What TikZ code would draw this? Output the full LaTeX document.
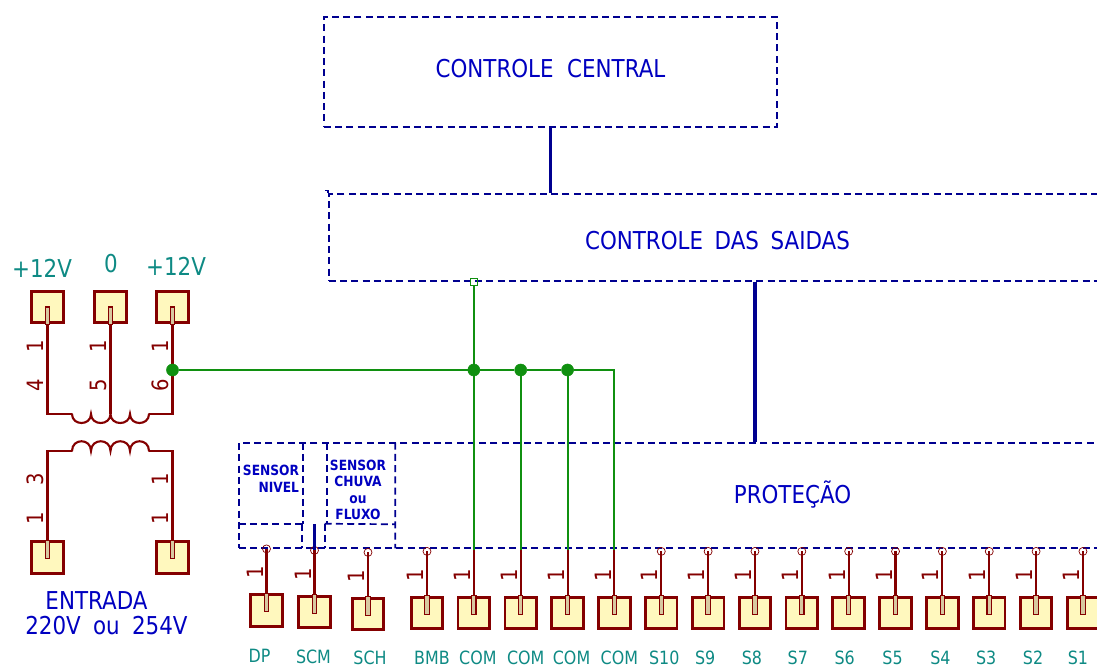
\documentclass[tikz,border=0pt]{standalone}
\usepackage{xcolor}
\usepackage{fontspec}
\usepackage{tikz}
\setmainfont{DejaVu Sans}[FakeStretch=0.87]
\usetikzlibrary{positioning}

\definecolor{pinred}{HTML}{840000}
\definecolor{padyellow}{HTML}{FFF8BE}
\definecolor{slottan}{HTML}{D8C8A0}
\definecolor{netgreen}{HTML}{109010}
\definecolor{boxblue}{HTML}{000090}
\definecolor{textblue}{HTML}{0000C0}
\definecolor{netteal}{HTML}{0E8A84}

\tikzset{
	pad/.style={draw=pinred, fill=padyellow, rectangle, line width=2pt, minimum size=0.79cm, inner sep=0pt},
	slotbox/.style={draw=pinred, fill=slottan, line width=0.8pt},
	wire/.style={draw=pinred, line width=1.5pt},
	net/.style={draw=netgreen, line width=1.5pt},
	bus/.style={draw=boxblue, line width=2.4pt},
	dashline/.style={draw=boxblue, line width=1.2pt, dash pattern=on 5pt off 3pt},
	dashbox/.style={dashline, rectangle, inner sep=0pt},
	areabox/.style={rectangle, inner sep=0pt},
	junction/.style={circle, fill=netgreen, draw=netgreen, minimum size=0.3cm, inner sep=0pt},
	testpoint/.style={circle, draw=pinred, line width=0.5pt, minimum size=0.2cm, inner sep=0pt},
	pinnum/.style={text=pinred, font=\fontsize{16}{16}\selectfont, rotate=90, inner sep=0pt},
	bigtext/.style={text=textblue, font=\fontsize{17.5}{21}\selectfont, align=center, inner sep=0pt},
	netlabel/.style={text=netteal, font=\fontsize{17.5}{21}\selectfont, inner sep=0pt},
	pinlabel/.style={text=netteal, font=\fontsize{13}{15}\selectfont, inner sep=0pt},
	smalltext/.style={text=textblue, font=\bfseries\fontsize{10}{11.7}\selectfont, inner sep=0pt}
}

\begin{document}
\begin{tikzpicture}[x=0.025cm, y=-0.025cm, node distance=1.171cm]
	\useasboundingbox (0,0) rectangle (1097,668);
	\clip (0,0) rectangle (1097,668);

	% Blocks
	\node (central) [dashbox, minimum width=11.325cm, minimum height=2.75cm] at (550.5,72) {};
	\node (saidas) [dashbox, minimum width=19.35cm, minimum height=2.175cm] at (716,237.5) {};
	\node (protecao) [dashbox, minimum width=21.6cm, minimum height=2.625cm] at (671,495.5) {};
	\node (nivel) [areabox, minimum width=1.6cm, minimum height=2.025cm] at (271,483.5) {};
	\node (chuva) [areabox, minimum width=1.7cm, minimum height=2.025cm] at (361,483.5) {};
	\node (nivel_low) [areabox, minimum width=1.575cm, minimum height=0.6cm] at (270.5,536) {};
	\node (chuva_low) [areabox, minimum width=1.75cm, minimum height=0.6cm] at (360,536) {};
	\draw[dashline] (nivel.north east) -- (nivel.south east);
	\draw[dashline] (nivel.south west) -- (nivel.south east);
	\draw[dashline] (nivel_low.north east) -- (nivel_low.south east);
	\draw[dashline] (chuva.north west) -- (chuva.south west);
	\draw[dashline] (chuva_low.north west) -- (chuva_low.south west);
	\draw[dashline] (chuva_low.north west) -- (chuva.south east);
	\draw[dashline] (chuva.north east) -- (chuva_low.south east);
	\draw[boxblue, line width=1pt] ([xshift=-0.08cm, yshift=0.07cm]saidas.north west) -- ([yshift=0.07cm]saidas.north west) -- (saidas.north west);

	% Block texts
	\node (central_txt) [bigtext] at (550.5,69) {CONTROLE\hspace{0.55em}CENTRAL};
	\node (saidas_txt) [bigtext] at (717.5,241) {CONTROLE\hspace{0.47em}DAS\hspace{0.47em}SAIDAS};
	\node (protecao_txt) [bigtext] at (792.5,495) {PROTEÇÃO};
	\node (nivel_txt) [smalltext, align=right] at (271,479) {SENSOR\\NIVEL};
	\node (chuva_txt) [smalltext, align=center] at (358,490) {SENSOR\\CHUVA\\ou\\FLUXO};

	% Transformer pads
	\node (pad_p4) [pad] at (47.5,307) {};
	\node (pad_p5) [pad] at (110.5,307) {};
	\node (pad_p6) [pad] at (172.5,307) {};
	\node (pad_e1) [pad] at (47.5,557.5) {};
	\node (pad_e2) [pad] at (172.5,557.5) {};

	% Terminal pads
	\node (pad_dp) [pad] at (266.5,610.5) {};
	\node (pad_scm) [pad] at (314.5,612) {};
	\node (pad_sch) [pad] at (368,614) {};
	\node (pad_bmb) [pad] at (427,613) {};
	\node (pad_com1) [pad, right of=pad_bmb] {};
	\node (pad_com2) [pad, right of=pad_com1] {};
	\node (pad_com3) [pad, right of=pad_com2] {};
	\node (pad_com4) [pad, right of=pad_com3] {};
	\node (pad_s10) [pad, right of=pad_com4] {};
	\node (pad_s9) [pad, right of=pad_s10] {};
	\node (pad_s8) [pad, right of=pad_s9] {};
	\node (pad_s7) [pad, right of=pad_s8] {};
	\node (pad_s6) [pad, right of=pad_s7] {};
	\node (pad_s5) [pad, right of=pad_s6] {};
	\node (pad_s4) [pad, right of=pad_s5] {};
	\node (pad_s3) [pad, right of=pad_s4] {};
	\node (pad_s2) [pad, right of=pad_s3] {};
	\node (pad_s1) [pad, right of=pad_s2] {};

	% Terminal wires
	\foreach \p in {dp,scm,sch,bmb,s10,s9,s8,s7,s6,s5,s4,s3,s2,s1} {
		\node (tp_\p) [testpoint, above of=pad_\p, node distance=1.54cm] {};
		\draw[wire] (pad_\p.center) -- (tp_\p.center);
	}
	\foreach \p in {com1,com2,com3,com4} {
		\coordinate[above of=pad_\p, node distance=1.57cm] (tp_\p);
		\draw[wire] (pad_\p.center) -- (tp_\p);
	}
	\foreach \p in {dp,scm,sch,bmb,com1,com2,com3,com4,s10,s9,s8,s7,s6,s5,s4,s3,s2,s1} {
		\draw[slotbox] ([xshift=-0.055cm]pad_\p.north) rectangle ([xshift=0.055cm, yshift=-0.03cm]pad_\p.center);
		\node (num_\p) [pinnum] at ([xshift=-0.29cm, yshift=0.95cm]pad_\p.center) {1};
	}

	% Terminal labels
	\foreach \p/\t/\dx in {dp/DP/-7, scm/SCM/-1, bmb/BMB/5, com1/COM/4, com2/COM/5, com3/COM/4, com4/COM/5,
			s10/S10/3, s9/S9/-3, s8/S8/-3, s7/S7/-4, s6/S6/-4, s5/S5/-3, s4/S4/-2, s3/S3/-3, s2/S2/-3, s1/S1/-5} {
		\node (lbl_\p) [pinlabel, below of=pad_\p, node distance=1.13cm, xshift=\dx*0.025cm] {\t};
	}
	\node (lbl_sch) [pinlabel, below of=pad_sch, node distance=1.1cm, xshift=0.05cm] {SCH};

	% Transformer
	\coordinate (sec_left) at (72,414);
	\coordinate (sec_mid) at (110.5,414);
	\coordinate (sec_right) at (149,414);
	\coordinate (pri_left) at (72,451);
	\coordinate (pri_right) at (149,451);
	\draw[wire, line cap=round] (sec_left) .. controls (72,426) and (91,426) .. (91,414)
		.. controls (91,426) and (110.5,426) .. (sec_mid)
		.. controls (110.5,426) and (130,426) .. (130,414)
		.. controls (130,426) and (149,426) .. (sec_right);
	\draw[wire, line cap=round] (pri_left) .. controls (72,438) and (91,438) .. (91,451)
		.. controls (91,438) and (110.5,438) .. (110.5,451)
		.. controls (110.5,438) and (130,438) .. (130,451)
		.. controls (130,438) and (149,438) .. (pri_right);
	\draw[wire] (pad_p4.center) |- (sec_left);
	\draw[wire] (pad_p5.center) -- (sec_mid);
	\draw[wire] (pad_p6.center) |- (sec_right);
	\draw[wire] (pad_e1.center) |- (pri_left);
	\draw[wire] (pad_e2.center) |- (pri_right);
	\foreach \p in {p4,p5,p6} {
		\draw[slotbox] ([xshift=-0.055cm]pad_\p.south) rectangle ([xshift=0.055cm]pad_\p.center);
	}
	\foreach \p in {e1,e2} {
		\draw[slotbox] ([xshift=-0.055cm]pad_\p.north) rectangle ([xshift=0.055cm, yshift=-0.03cm]pad_\p.center);
	}

	% Transformer pin numbers
	\node (num_p4a) [pinnum] at (35,346) {1};
	\node (num_p4b) [pinnum] at (35,385) {4};
	\node (num_p5a) [pinnum] at (98,346) {1};
	\node (num_p5b) [pinnum] at (98,385) {5};
	\node (num_p6a) [pinnum] at (160,346) {1};
	\node (num_p6b) [pinnum] at (160,385) {6};
	\node (num_e1a) [pinnum] at (35,479) {3};
	\node (num_e1b) [pinnum] at (35,518) {1};
	\node (num_e2a) [pinnum] at (160,479) {1};
	\node (num_e2b) [pinnum] at (160,518) {1};

	% Transformer labels
	\node (lbl_p4) [netlabel] at (42,268) {+12V};
	\node (lbl_p5) [netlabel] at (111,264) {0};
	\node (lbl_p6) [netlabel] at (176,266) {+12V};
	\node (lbl_in1) [bigtext] at (96.5,601) {ENTRADA};
	\node (lbl_in2) [bigtext] at (106.5,626) {220V\hspace{0.5em}ou\hspace{0.5em}254V};

	% Green net
	\node (dot_p6) [junction] at (pad_p6 |- 0,370) {};
	\node (dot_com1) [junction] at (pad_com1 |- dot_p6) {};
	\node (dot_com2) [junction] at (pad_com2 |- dot_p6) {};
	\node (dot_com3) [junction] at (pad_com3 |- dot_p6) {};
	\node (mark_saidas) [draw=netgreen, rectangle, line width=0.6pt, minimum size=0.17cm, inner sep=0pt] at (pad_com1 |- saidas.south) {};
	\draw[net] (dot_p6) -- (dot_com1) -- (dot_com2) -- (dot_com3) -| (tp_com4);
	\draw[net] (mark_saidas) -- (dot_com1) -- (tp_com1);
	\draw[net] (dot_com2) -- (tp_com2);
	\draw[net] (dot_com3) -- (tp_com3);

	% Buses
	\coordinate (bus_saidas) at (755,0);
	\draw[bus] (central.south) -- (central.south |- saidas.north);
	\draw[bus] (bus_saidas |- saidas.south) -- (bus_saidas |- protecao.north);
	\draw[bus] (tp_scm.center |- nivel.south) -- (tp_scm.center);
\end{tikzpicture}
\end{document}
